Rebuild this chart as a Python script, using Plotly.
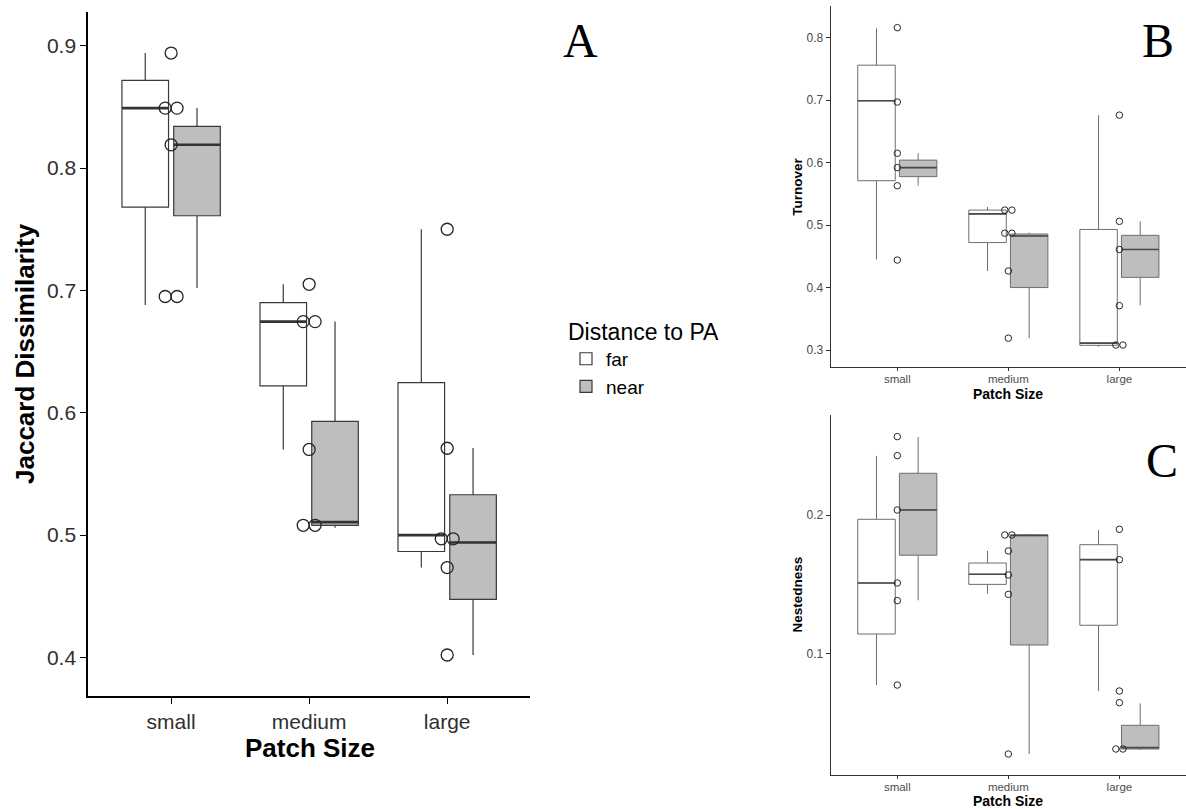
import plotly.graph_objects as go

W, H = 1186, 809

categories = ["small", "medium", "large"]

# ---------------- Panel A : Jaccard Dissimilarity ----------------
jac_far_low = [0.688, 0.570, 0.4735]
jac_far_q1 = [0.768, 0.622, 0.4866]
jac_far_med = [0.849, 0.6745, 0.500]
jac_far_q3 = [0.8717, 0.690, 0.6247]
jac_far_high = [0.894, 0.705, 0.750]

jac_near_low = [0.702, 0.506, 0.402]
jac_near_q1 = [0.761, 0.508, 0.4474]
jac_near_med = [0.819, 0.5106, 0.494]
jac_near_q3 = [0.834, 0.593, 0.533]
jac_near_high = [0.849, 0.6745, 0.5711]

jac_pts_small = [0.894, 0.849, 0.849, 0.819, 0.695, 0.695]
jac_pts_medium = [0.705, 0.6745, 0.6745, 0.570, 0.508, 0.508]
jac_pts_large = [0.750, 0.571, 0.497, 0.497, 0.4735, 0.402]

# ---------------- Panel B : Turnover ----------------
tur_far_low = [0.445, 0.4265, 0.3053]
tur_far_q1 = [0.571, 0.472, 0.3075]
tur_far_med = [0.699, 0.518, 0.311]
tur_far_q3 = [0.756, 0.524, 0.493]
tur_far_high = [0.815, 0.529, 0.676]

tur_near_low = [0.563, 0.319, 0.3715]
tur_near_q1 = [0.5775, 0.400, 0.4163]
tur_near_med = [0.592, 0.4825, 0.461]
tur_near_q3 = [0.604, 0.4857, 0.4836]
tur_near_high = [0.615, 0.488, 0.506]

tur_pts_small = [0.816, 0.697, 0.615, 0.592, 0.563, 0.444]
tur_pts_medium = [0.524, 0.524, 0.487, 0.487, 0.4265, 0.319]
tur_pts_large = [0.676, 0.506, 0.461, 0.371, 0.308, 0.308]

# ---------------- Panel C : Nestedness ----------------
nes_far_low = [0.0776, 0.1435, 0.0733]
nes_far_q1 = [0.1144, 0.1502, 0.1207]
nes_far_med = [0.1512, 0.1575, 0.168]
nes_far_q3 = [0.1971, 0.1656, 0.1788]
nes_far_high = [0.2428, 0.1743, 0.1894]

nes_near_low = [0.1387, 0.0279, 0.0308]
nes_near_q1 = [0.1712, 0.1065, 0.0315]
nes_near_med = [0.2038, 0.1856, 0.0325]
nes_near_q3 = [0.2303, 0.1858, 0.0486]
nes_near_high = [0.2565, 0.186, 0.0644]

nes_pts_small = [0.2567, 0.243, 0.2038, 0.1512, 0.1385, 0.0776]
nes_pts_medium = [0.1858, 0.1858, 0.1743, 0.157, 0.143, 0.0279]
nes_pts_large = [0.1899, 0.168, 0.0733, 0.0649, 0.0315, 0.0315]

# ---------------- layout helpers (positions/styles) ----------------
# side-by-side steps for overlapping points (-1 left, 0 centre, +1 right)
steps_A = [[0, -1, 1, 0, -1, 1], [0, -1, 1, 0, -1, 1], [0, 0, -1, 1, 0, 0]]
steps_B = [[0, 0, 0, 0, 0, 0], [-1, 1, -1, 1, 0, 0], [0, 0, 0, 0, -1, 1]]
steps_C = [[0, 0, 0, 0, 0, 0], [-1, 1, 0, 0, 0, 0], [0, 0, 0, 0, -1, 1]]

DODGE = 0.1875
BOXW = 0.3375
FONT = "Liberation Sans, Arial, Helvetica, sans-serif"
SERIF = "Liberation Serif, Times New Roman, serif"
FAR_FILL = "#ffffff"
NEAR_FILL = "#bebebe"

fig = go.Figure()


def add_panel(xa, ya, far, near, points, steps, step_size, line_col, line_w,
              med_col, med_w, msize, mlw, legend):
    for gi, (name, st, fill) in enumerate([("far", far, FAR_FILL), ("near", near, NEAR_FILL)]):
        off = -DODGE if gi == 0 else DODGE
        xs = [i + 1 + off for i in range(len(categories))]
        fig.add_trace(go.Box(
            x=xs, q1=st[1], median=st[2], q3=st[3], lowerfence=st[0], upperfence=st[4],
            width=BOXW, fillcolor=fill, line=dict(color=line_col, width=line_w),
            whiskerwidth=0, boxpoints=False, name=name, legendgroup=name,
            showlegend=legend, xaxis=xa, yaxis=ya, hoverinfo="skip"))
        mx, my = [], []
        for x, m in zip(xs, st[2]):
            mx += [x - BOXW / 2, x + BOXW / 2, None]
            my += [m, m, None]
        fig.add_trace(go.Scatter(x=mx, y=my, mode="lines",
                                 line=dict(color=med_col, width=med_w),
                                 showlegend=False, xaxis=xa, yaxis=ya, hoverinfo="skip"))
    px, py = [], []
    for i, (vals, sts) in enumerate(zip(points, steps)):
        for v, s in zip(vals, sts):
            px.append(i + 1 + s * step_size)
            py.append(v)
    fig.add_trace(go.Scatter(x=px, y=py, mode="markers",
                             marker=dict(symbol="circle-open", size=msize, color="#262626",
                                         line=dict(width=mlw, color="#262626")),
                             showlegend=False, xaxis=xa, yaxis=ya, hoverinfo="skip"))


add_panel("x", "y",
          [jac_far_low, jac_far_q1, jac_far_med, jac_far_q3, jac_far_high],
          [jac_near_low, jac_near_q1, jac_near_med, jac_near_q3, jac_near_high],
          [jac_pts_small, jac_pts_medium, jac_pts_large], steps_A, 0.043,
          "#3a3a3a", 1.2, "#333333", 2.6, 12, 1.3, True)
add_panel("x2", "y2",
          [tur_far_low, tur_far_q1, tur_far_med, tur_far_q3, tur_far_high],
          [tur_near_low, tur_near_q1, tur_near_med, tur_near_q3, tur_near_high],
          [tur_pts_small, tur_pts_medium, tur_pts_large], steps_B, 0.032,
          "#6e6e6e", 1.0, "#4a4a4a", 1.6, 6.5, 1.0, False)
add_panel("x3", "y3",
          [nes_far_low, nes_far_q1, nes_far_med, nes_far_q3, nes_far_high],
          [nes_near_low, nes_near_q1, nes_near_med, nes_near_q3, nes_near_high],
          [nes_pts_small, nes_pts_medium, nes_pts_large], steps_C, 0.032,
          "#6e6e6e", 1.0, "#4a4a4a", 1.6, 6.5, 1.0, False)


def px2paper(x, y):
    return x / W, 1 - y / H


tickvals_x = list(range(1, len(categories) + 1))

axA = dict(showline=True, linecolor="black", linewidth=2, ticks="outside", ticklen=6,
           tickcolor="black", tickwidth=1.3, showgrid=False, zeroline=False,
           tickfont=dict(family=FONT, size=21, color="#303030"))
axS = dict(showline=True, linecolor="#333333", linewidth=1.3, ticks="outside", ticklen=4,
           tickcolor="#333333", tickwidth=1, showgrid=False, zeroline=False,
           tickfont=dict(family=FONT, size=12, color="#4d4d4d"))

fig.update_layout(
    width=W, height=H, margin=dict(l=0, r=0, t=0, b=0),
    paper_bgcolor="white", plot_bgcolor="white",
    font=dict(family=FONT, color="black"),
    xaxis=dict(axA, domain=[88.3 / W, 530 / W], range=[0.4, 3.6], anchor="y",
               tickvals=tickvals_x, ticktext=categories),
    yaxis=dict(axA, domain=[1 - 696 / H, 1 - 12.3 / H], range=[0.3685, 0.9273], anchor="x",
               tickvals=[0.4, 0.5, 0.6, 0.7, 0.8, 0.9], tickformat=".1f"),
    xaxis2=dict(axS, domain=[830.7 / W, 1.0], range=[0.4, 3.6], anchor="y2",
                tickvals=tickvals_x, ticktext=categories, ticklen=3, ticklabelstandoff=-2,
                tickfont=dict(family=FONT, size=11.5, color="#4d4d4d")),
    yaxis2=dict(axS, domain=[1 - 366.7 / H, 1 - 6 / H], range=[0.2733, 0.8507], anchor="x2",
                tickvals=[0.3, 0.4, 0.5, 0.6, 0.7, 0.8], tickformat=".1f"),
    xaxis3=dict(axS, domain=[830.7 / W, 1.0], range=[0.4, 3.6], anchor="y3",
                tickvals=tickvals_x, ticktext=categories, ticklen=3, ticklabelstandoff=-2,
                tickfont=dict(family=FONT, size=11.5, color="#4d4d4d")),
    yaxis3=dict(axS, domain=[1 - 775 / H, 1 - 415 / H], range=[0.01276, 0.2723], anchor="x3",
                tickvals=[0.1, 0.2], tickformat=".1f"),
    legend=dict(title=dict(text="Distance to PA", font=dict(family=FONT, size=23)),
                font=dict(family=FONT, size=19), x=566 / W, xanchor="left",
                y=1 - 358 / H, yanchor="middle", bgcolor="rgba(0,0,0,0)",
                tracegroupgap=0),
    showlegend=True,
)

annots = [
    ("Jaccard Dissimilarity", 25, 354, 26, -90, True, FONT),
    ("Patch Size", 309.7, 748, 26, 0, True, FONT),
    ("Turnover", 796.7, 187, 13.5, -90, True, FONT),
    ("Patch Size", 1007.7, 394.5, 14, 0, True, FONT),
    ("Nestedness", 796.5, 595, 13.5, -90, True, FONT),
    ("Patch Size", 1007.7, 800.5, 14, 0, True, FONT),
    ("A", 580, 40, 48, 0, False, SERIF),
    ("B", 1158, 41, 48, 0, False, SERIF),
    ("C", 1162, 460, 48, 0, False, SERIF),
]
for text, x, y, size, ang, bold, fam in annots:
    ax_, ay_ = px2paper(x, y)
    fig.add_annotation(text=text, x=ax_, y=ay_, xref="paper", yref="paper",
                       xanchor="center", yanchor="middle", showarrow=False, textangle=ang,
                       font=dict(family=fam, size=size, color="black",
                                 weight="bold" if bold else "normal"))

fig.write_html("out.html")
